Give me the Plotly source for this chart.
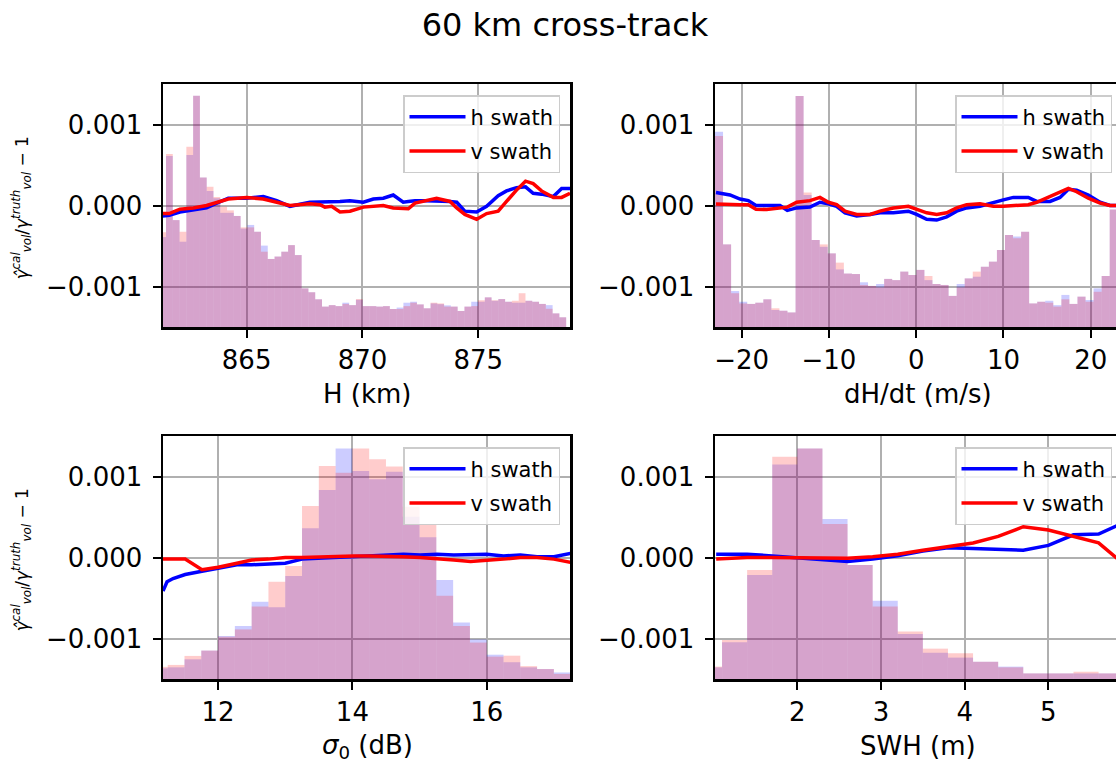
import numpy as np
import plotly.graph_objects as go

# ---------------- data ----------------
# Panel 1: H (km)
H_bin_start, H_bin_width, H_nbins = 861.227, 0.2928, 60
H_hist_h = [0.37, 0.704, 0.44, 0.351, 0.708, 0.952, 0.615, 0.56, 0.53, 0.47,
            0.47, 0.457, 0.405, 0.42, 0.392, 0.335, 0.28, 0.29, 0.31, 0.337,
            0.296, 0.159, 0.143, 0.114, 0.084, 0.09, 0.086, 0.1, 0.09, 0.112,
            0.086, 0.086, 0.084, 0.086, 0.074, 0.08, 0.1, 0.104, 0.093, 0.077,
            0.097, 0.094, 0.089, 0.084, 0.066, 0.084, 0.104, 0.104, 0.122, 0.108,
            0.115, 0.104, 0.1, 0.1, 0.108, 0.104, 0.095, 0.09, 0.056, 0.04]
H_hist_v = [0.39, 0.712, 0.44, 0.392, 0.742, 0.952, 0.615, 0.577, 0.535, 0.495,
            0.48, 0.457, 0.41, 0.41, 0.392, 0.31, 0.28, 0.29, 0.31, 0.337,
            0.296, 0.159, 0.143, 0.114, 0.084, 0.09, 0.086, 0.095, 0.09, 0.115,
            0.086, 0.086, 0.084, 0.086, 0.074, 0.074, 0.086, 0.1, 0.093, 0.077,
            0.1, 0.097, 0.084, 0.084, 0.066, 0.084, 0.086, 0.11, 0.122, 0.11,
            0.115, 0.104, 0.108, 0.139, 0.108, 0.104, 0.095, 0.075, 0.056, 0.04]
H_line_x = [861.38, 861.66, 862.12, 862.70, 863.27, 863.71, 864.21, 865.00, 865.72, 866.30,
            866.87, 867.73, 868.17, 868.38, 868.67, 869.03, 869.46, 870.04, 870.47, 870.90,
            871.33, 871.76, 871.98, 872.27, 872.77, 873.20, 873.78, 874.07, 874.42, 874.93,
            875.36, 875.86, 876.22, 876.65, 877.04, 877.37, 877.73, 878.24, 878.60, 878.96]
H_line_h = [-0.00013, -0.00012, -0.00008, -0.00005, -0.00003, 0.00003, 0.00009, 0.00009, 0.00011, 0.00006,
            -0.00001, 0.00004, 0.00004, 0.00004, 0.00004, 0.00005, 0.00006, 0.00004, 0.00008, 0.00009,
            0.00013, 0.00004, 0.00005, 0.00006, 0.00006, 0.00006, 0.00005, 0.00004, -0.00007, -0.00008,
            -0.00001, 0.00012, 0.00018, 0.00022, 0.00023, 0.00015, 0.00014, 0.00011, 0.00021, 0.00021]
H_line_v = [-0.0001, -0.0001, -0.000045, -0.00003, 0.0, 0.00004, 0.00008, 0.0001, 0.00008, 0.00004,
            0.0, 0.00002, 0.00001, -0.00002, -0.00001, -0.00008, -0.00007, -0.00002, -0.00001, 0.0,
            -0.00003, -0.00004, -0.00004, 0.00003, 0.00006, 0.00009, 0.00005, -0.00003, -0.00011, -0.00017,
            -0.0001, -0.00007, 0.00005, 0.00019, 0.0003, 0.00027, 0.00018, 0.0001, 0.0001, 0.00015]

# Panel 2: dH/dt (m/s)
D_bin_start, D_bin_width, D_nbins = -23.06, 0.9232, 50
D_hist_h = [0.804, 0.34, 0.148, 0.104, 0.095, 0.1, 0.114, 0.07, 0.067, 0.06,
            0.951, 0.543, 0.358, 0.33, 0.303, 0.237, 0.22, 0.218, 0.184, 0.169,
            0.177, 0.198, 0.193, 0.228, 0.214, 0.235, 0.193, 0.177, 0.173, 0.128,
            0.177, 0.2, 0.207, 0.248, 0.269, 0.317, 0.379, 0.372, 0.392, 0.097,
            0.104, 0.108, 0.09, 0.132, 0.095, 0.125, 0.111, 0.159, 0.21, 0.484]
D_hist_v = [0.786, 0.34, 0.139, 0.097, 0.095, 0.1, 0.114, 0.077, 0.067, 0.06,
            0.951, 0.553, 0.358, 0.34, 0.303, 0.265, 0.22, 0.218, 0.173, 0.169,
            0.163, 0.198, 0.193, 0.228, 0.214, 0.235, 0.21, 0.177, 0.173, 0.128,
            0.163, 0.2, 0.228, 0.248, 0.269, 0.317, 0.379, 0.365, 0.392, 0.097,
            0.104, 0.1, 0.084, 0.114, 0.095, 0.125, 0.104, 0.145, 0.21, 0.484]
D_line_x = [-22.95, -21.34, -20.19, -19.24, -18.36, -17.14, -15.61, -14.77, -13.70, -12.17,
            -11.03, -10.07, -9.12, -8.16, -6.82, -5.29, -4.15, -2.62, -0.90, 0.05,
            1.20, 2.35, 3.49, 4.64, 5.78, 7.31, 8.84, 9.99, 11.13, 12.85,
            13.81, 15.34, 16.48, 17.44, 18.39, 19.73, 21.07, 22.21, 23.13]
D_line_h = [0.00016, 0.00013, 0.00008, 0.00006, 0.0, 0.0, 0.0, -0.00006, -0.00003, -0.00002,
            0.00004, 0.00002, -0.00001, -0.00009, -0.00013, -0.00011, -0.00009, -0.00009, -0.00007, -0.00011,
            -0.00017, -0.00018, -0.00014, -0.00007, -0.00003, -0.00001, 0.00004, 0.00007, 0.0001, 0.0001,
            0.00005, 0.00005, 0.0001, 0.0002, 0.00019, 0.00013, 0.00004, 0.0, 0.0]
D_line_v = [0.00002, 0.00001, 0.00001, 0.00001, -0.000045, -0.00005, -0.00003, -0.00002, 0.00004, 0.00006,
            0.0001, 0.00004, 0.00001, -0.00007, -0.00011, -0.00011, -0.00007, -0.00003, -0.00001, -0.00005,
            -0.00009, -0.00011, -0.00009, -0.00003, 0.00001, 0.00002, -0.00001, -0.00001, 0.0, 0.00001,
            0.00004, 0.00011, 0.00017, 0.00021, 0.00017, 0.00009, 0.00003, 0.0, 0.0]

# Panel 3: sigma0 (dB)
S_edges = [11.0, 11.25, 11.5, 11.75, 12.0, 12.25, 12.5, 12.75, 13.0, 13.25, 13.5, 13.75, 14.0,
           14.25, 14.5, 14.75, 15.0, 15.25, 15.5, 15.75, 16.0, 16.25, 16.5, 16.75, 17.0, 17.25]
S_hist_h = [0.044, 0.048, 0.081, 0.117, 0.177, 0.218, 0.318, 0.295, 0.424, 0.62, 0.778, 0.949, 0.856,
            0.822, 0.853, 0.668, 0.583, 0.407, 0.232, 0.163, 0.1, 0.069, 0.048, 0.041, 0.027]
S_hist_v = [0.05, 0.058, 0.095, 0.117, 0.174, 0.204, 0.298, 0.40, 0.465, 0.712, 0.877, 0.849, 0.949,
            0.904, 0.874, 0.709, 0.638, 0.343, 0.218, 0.15, 0.092, 0.096, 0.053, 0.041, 0.021]
S_line_x = [11.18, 11.24, 11.33, 11.51, 11.76, 12.0, 12.28, 12.5, 12.75, 13.0, 13.25, 13.52, 13.77,
            14.02, 14.27, 14.51, 14.76, 15.01, 15.26, 15.51, 15.76, 16.0, 16.25, 16.5, 16.75, 17.0, 17.25]
S_line_h = [-0.000414, -0.0003, -0.00026, -0.00021, -0.00017, -0.00013, -0.00009, -0.00009, -0.00008,
            -0.00007, -0.00002, -0.00001, 0.0, 0.00001, 0.00002, 0.00003, 0.00004, 0.00003, 0.00004,
            0.00003, 0.00003, 0.00004, 0.00002, 0.00003, 0.00001, 0.00001, 0.00005]
S_line_v = [-0.00002, -0.00002, -0.00002, -0.00002, -0.00015, -0.00012, -0.00007, -0.00003, -0.00002,
            0.0, 0.0, 0.00001, 0.00001, 0.00002, 0.00002, 0.00002, 0.00001, 0.0, -0.00001,
            -0.00003, -0.00005, -0.00004, -0.00002, 0.0, 0.0, -0.00002, -0.00006]

# Panel 4: SWH (m)
W_edges = [0.8, 1.1, 1.4, 1.7, 2.0, 2.3, 2.6, 2.9, 3.2, 3.5, 3.8, 4.1, 4.4, 4.7, 5.0, 5.3, 5.6, 5.9]
W_hist_h = [0.048, 0.151, 0.428, 0.883, 0.949, 0.658, 0.469, 0.322, 0.185, 0.108, 0.088, 0.071,
            0.051, 0.023, 0.023, 0.023, 0.023]
W_hist_v = [0.051, 0.16, 0.449, 0.915, 0.949, 0.638, 0.469, 0.298, 0.195, 0.125, 0.106, 0.071,
            0.048, 0.023, 0.023, 0.03, 0.023]
W_line_x = [1.03, 1.4, 1.7, 2.0, 2.3, 2.6, 2.9, 3.2, 3.5, 3.8, 4.1, 4.4, 4.7, 5.0, 5.3, 5.6, 5.9]
W_line_h = [0.00004, 0.00004, 0.00002, 0.0, -0.00002, -0.00005, -0.00002, 0.00002, 0.00008, 0.00012,
            0.00011, 0.0001, 0.00009, 0.00015, 0.00028, 0.00029, 0.00043]
W_line_v = [-0.00002, 0.0, 0.0, 0.0, -0.00001, -0.00001, 0.00001, 0.00004, 0.00009, 0.00014,
            0.00018, 0.00026, 0.00038, 0.00034, 0.00026, 0.00018, -0.00008]

y_tickvals = [-0.001, 0.0, 0.001]
y_ticktext = ["\u22120.001", "0.000", "0.001"]

H_ticks = [865, 870, 875]
D_ticks = [-20, -10, 0, 10, 20]
S_ticks = [12, 14, 16]
W_ticks = [2, 3, 4, 5]

x_labels = ["H (km)", "dH/dt (m/s)", "<i>\u03c3</i><sub>0</sub> (dB)", "SWH (m)"]
y_label = ("<i>\u03b3\u0302</i><sup><i>cal</i></sup><sub><i>vol</i></sub>/"
           "<i>\u03b3</i><sup><i>truth</i></sup><sub><i>vol</i></sub> \u2212 1")
title_text = "60 km cross-track"
series_names = ["h swath", "v swath"]

# ---------------- layout geometry (reference pixels) ----------------
FW, FH = 1116, 762
FONT = "DejaVu Sans"
cols = [(163, 570), (715, 1116)]
rows = [(84, 327), (436, 679)]
x_ranges = [[861.39, 878.96], [-23.06, 22.90], [11.18, 17.24], [1.016, 5.808]]


def px_x(p):
    return p / FW


def px_y(p):
    return 1 - p / FH


def fmt_tick(v):
    return f"{v:g}".replace("-", "\u2212")


edge_sets = [
    np.linspace(H_bin_start, H_bin_start + H_bin_width * H_nbins, H_nbins + 1),
    np.linspace(D_bin_start, D_bin_start + D_bin_width * D_nbins, D_nbins + 1),
    np.array(S_edges),
    np.array(W_edges),
]
hists = [(H_hist_h, H_hist_v), (D_hist_h, D_hist_v), (S_hist_h, S_hist_v), (W_hist_h, W_hist_v)]
lines = [(H_line_x, H_line_h, H_line_v), (D_line_x, D_line_h, D_line_v),
         (S_line_x, S_line_h, S_line_v), (W_line_x, W_line_h, W_line_v)]
xticks = [H_ticks, D_ticks, S_ticks, W_ticks]

fig = go.Figure()
layout = dict(
    width=FW, height=FH,
    margin=dict(l=0, r=0, t=0, b=0),
    paper_bgcolor="white", plot_bgcolor="white",
    barmode="overlay",
    font=dict(family=FONT, size=26, color="black"),
    showlegend=True,
    title=dict(text=title_text, x=px_x(565), xanchor="center", y=px_y(25), yanchor="middle",
               font=dict(family=FONT, size=32, color="black")),
)

annotations = []
for i in range(4):
    r, c = divmod(i, 2)
    n = i + 1
    xa = "x" if n == 1 else f"x{n}"
    yb = "y" if n == 1 else f"y{n}"
    yl = f"y{n + 4}"
    leg = "legend" if n == 1 else f"legend{n}"

    edges = edge_sets[i]
    centers = (edges[:-1] + edges[1:]) / 2
    widths = edges[1:] - edges[:-1]
    hb, hv = hists[i]
    fig.add_trace(go.Bar(x=centers, y=hb, width=widths, xaxis=xa, yaxis=yb,
                         marker=dict(color="rgba(0,0,255,0.2)", line=dict(width=0)),
                         showlegend=False, hoverinfo="skip"))
    fig.add_trace(go.Bar(x=centers, y=hv, width=widths, xaxis=xa, yaxis=yb,
                         marker=dict(color="rgba(255,0,0,0.2)", line=dict(width=0)),
                         showlegend=False, hoverinfo="skip"))
    lx, lh, lv = lines[i]
    fig.add_trace(go.Scatter(x=lx, y=lh, mode="lines", name=series_names[0],
                             line=dict(color="rgb(0,0,255)", width=3.5),
                             xaxis=xa, yaxis=yl, legend=leg, legendgroup=f"h{n}"))
    fig.add_trace(go.Scatter(x=lx, y=lv, mode="lines", name=series_names[1],
                             line=dict(color="rgb(255,0,0)", width=3.5),
                             xaxis=xa, yaxis=yl, legend=leg, legendgroup=f"v{n}"))

    x0, x1 = cols[c]
    y0, y1 = rows[r]
    xdom = [px_x(x0), min(px_x(x1), 1.0)]
    ydom = [px_y(y1), px_y(y0)]
    axis_common = dict(showgrid=True, gridcolor="#b0b0b0", gridwidth=2,
                       showline=True, linecolor="black", linewidth=2.5,
                       ticks="outside", ticklen=8, tickwidth=2, tickcolor="black",
                       tickfont=dict(family=FONT, size=26, color="black"),
                       zeroline=False, fixedrange=True)
    layout["xaxis" if n == 1 else f"xaxis{n}"] = dict(
        domain=xdom, anchor=yb, range=x_ranges[i], mirror=True,
        tickvals=xticks[i], ticktext=[fmt_tick(v) for v in xticks[i]], **axis_common)
    layout["yaxis" if n == 1 else f"yaxis{n}"] = dict(
        domain=ydom, anchor=xa, range=[0, 1], visible=False, fixedrange=True)
    # right-column panels run past the cropped right edge: no right spine visible
    layout[f"yaxis{n + 4}"] = dict(
        overlaying=yb, anchor=xa, side="left", range=[-0.0015, 0.0015],
        mirror=(c == 0),
        tickvals=y_tickvals, ticktext=y_ticktext, ticklabelstandoff=5, **axis_common)

    # legend per panel
    layout[leg] = dict(x=px_x(560 if c == 0 else 1112), xanchor="right",
                       y=px_y(y0 + 11), yanchor="top",
                       bgcolor="rgba(255,255,255,0.8)", bordercolor="#cccccc", borderwidth=1.5,
                       font=dict(family=FONT, size=21, color="black"),
                       tracegroupgap=4, itemwidth=56)

    # axis titles
    annotations.append(dict(text=x_labels[i], xref="paper", yref="paper",
                            x=px_x(367 if c == 0 else 918), y=px_y(y1 + 67),
                            xanchor="center", yanchor="middle", showarrow=False,
                            font=dict(family=FONT, size=26, color="black")))
    if c == 0:
        annotations.append(dict(text=y_label, xref="paper", yref="paper",
                                x=px_x(22), y=px_y((y0 + y1) / 2 + 3),
                                xanchor="center", yanchor="middle", showarrow=False,
                                textangle=-90,
                                font=dict(family=FONT, size=17, color="black")))

layout["annotations"] = annotations
fig.update_layout(**layout)
fig.write_html("out.html",
               config={"displayModeBar": False, "staticPlot": True},
               post_script="document.body.style.margin='0';"
                           "document.documentElement.style.overflow='hidden';")
